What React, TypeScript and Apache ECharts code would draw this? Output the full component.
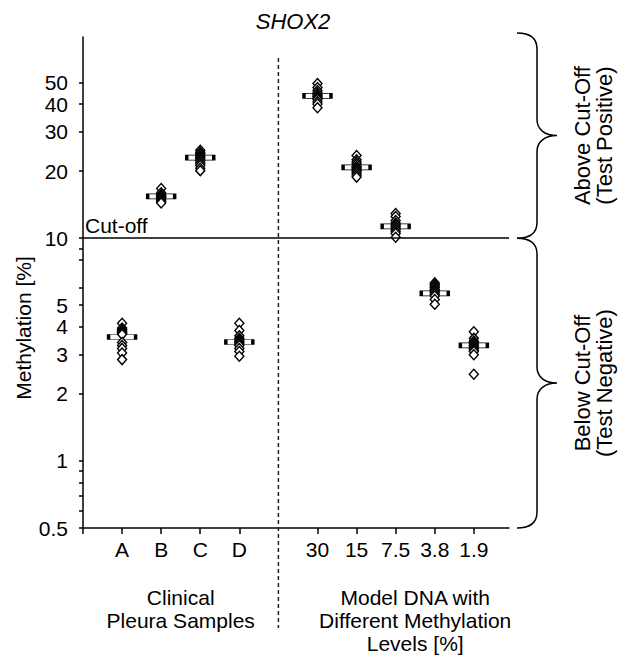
import React, { useEffect, useRef } from "react";
import * as echarts from "echarts";

// ---- data ----
const xTickLabels = ["", "A", "B", "C", "D", "", "30", "15", "7.5", "3.8", "1.9"];
const groupPositions = [1, 2, 3, 4, 6, 7, 8, 9, 10];

const sampleA = [4.15, 3.95, 3.9, 3.85, 3.8, 3.78, 3.75, 3.72, 3.7, 3.4, 3.3, 3.2, 3.05, 2.85];
const sampleB = [16.7, 16.0, 15.7, 15.5, 15.4, 15.3, 15.2, 15.0, 14.8, 14.6, 14.4];
const sampleC = [24.8, 24.3, 24.0, 23.6, 23.3, 23.0, 22.7, 22.4, 22.0, 21.6, 21.2, 20.6, 20.1];
const sampleD = [4.15, 3.85, 3.65, 3.55, 3.5, 3.45, 3.4, 3.35, 3.3, 3.2, 3.1, 2.95];
const model30 = [49.5, 47.5, 46, 45, 44, 43.5, 43, 42.5, 42, 41, 40, 38.5];
const model15 = [23.5, 22.5, 22, 21.5, 21, 20.8, 20.5, 20.2, 20, 19.6, 19.2, 18.8];
const model7_5 = [12.9, 12.5, 12.0, 11.7, 11.5, 11.3, 11.1, 10.9, 10.7, 10.5, 10.1];
const model3_8 = [6.3, 6.2, 6.1, 6.0, 5.9, 5.85, 5.8, 5.7, 5.6, 5.5, 5.3, 5.05];
const model1_9 = [3.8, 3.55, 3.45, 3.4, 3.35, 3.3, 3.25, 3.2, 3.15, 3.1, 3.0, 2.45];
const groups = [sampleA, sampleB, sampleC, sampleD, model30, model15, model7_5, model3_8, model1_9];
const medians = [3.6, 15.4, 23.0, 3.42, 43.5, 20.8, 11.3, 5.65, 3.3];

const yLabelValues = [0.5, 1, 2, 3, 4, 5, 10, 20, 30, 40, 50];
const yTickValues = [0.5, 0.6, 0.7, 0.8, 0.9, 1, 2, 3, 4, 5, 6, 8, 9, 10, 20, 30, 40, 50];
const xTickValues = [0, 1, 2, 3, 4, 6, 7, 8, 9, 10];
const xLabelValues = [1, 2, 3, 4, 6, 7, 8, 9, 10];
const cutOff = 10;
const yMin = 0.5;
const yMax = 80;
const dividerX = 5;
const clinicalCenterX = 2.5;
const modelCenterX = 8.5;

const FONT = "'Liberation Sans', Arial, Helvetica, sans-serif";

export default function App() {
  const ref = useRef<HTMLDivElement | null>(null);

  useEffect(() => {
    if (!ref.current) return;
    const chart = echarts.init(ref.current, undefined, { renderer: "svg" });

    const points: number[][] = [];
    groups.forEach((g, i) => g.forEach((v) => points.push([groupPositions[i], v])));
    const medianPts = medians.map((m, i) => [groupPositions[i], m]);

    const lineStyle = { color: "#000", width: 1.5 };

    chart.setOption({
      animation: false,
      backgroundColor: "#fff",
      grid: { left: 83, top: 37, width: 426, height: 491, containLabel: false, outerBoundsMode: "none" },
      xAxis: {
        type: "value",
        min: 0,
        max: 10.9,
        axisLine: { show: true, onZero: false, lineStyle },
        axisTick: { show: true, length: 6, customValues: xTickValues, lineStyle },
        axisLabel: {
          customValues: xLabelValues,
          formatter: (v: number) => xTickLabels[Math.round(v)] ?? "",
          fontSize: 21,
          fontFamily: FONT,
          color: "#000",
          margin: 11,
        },
        splitLine: { show: false },
      },
      yAxis: {
        type: "log",
        logBase: 10,
        min: yMin,
        max: yMax,
        axisLine: { show: true, onZero: false, lineStyle },
        axisTick: { show: true, length: 4, customValues: yTickValues, lineStyle },
        axisLabel: {
          customValues: yLabelValues,
          formatter: (v: number) => String(Math.round(v * 10) / 10),
          fontSize: 21,
          fontFamily: FONT,
          color: "#000",
          margin: 15,
        },
        splitLine: { show: false },
        minorTick: { show: false },
      },
      series: [
        {
          type: "scatter",
          name: "median",
          data: medianPts,
          symbol: "rect",
          symbolSize: [27, 5],
          itemStyle: { color: "#fff", borderColor: "#000", borderWidth: 1.5, opacity: 1 },
          z: 2,
          markLine: {
            silent: true,
            symbol: "none",
            data: [{ yAxis: cutOff }],
            lineStyle: { color: "#000", width: 1.5, type: "solid" },
            label: {
              show: true,
              position: "insideStartTop",
              formatter: "Cut-off",
              fontSize: 21,
              fontFamily: FONT,
              color: "#000",
              distance: 2,
            },
          },
        },
        {
          type: "scatter",
          name: "points",
          data: points,
          symbol: "diamond",
          symbolSize: [9, 10],
          itemStyle: { color: "#fff", borderColor: "#000", borderWidth: 1.4, opacity: 1 },
          z: 3,
        },
      ],
    });

    const px = (x: number, y: number) => chart.convertToPixel({ gridIndex: 0 }, [x, y]) as number[];
    const xDiv = px(dividerX, cutOff)[0];
    const xRightEnd = px(10.9, cutOff)[0];
    const yCut = px(0, cutOff)[1];
    const yTop = px(0, yMax)[1];
    const yBottom = px(0, yMin)[1];
    const xClin = px(clinicalCenterX, cutOff)[0];
    const xModel = px(modelCenterX, cutOff)[0];

    const bx0 = xRightEnd + 8;
    const bx1 = bx0 + 20;
    const bx2 = bx1 + 20;
    const r = 16;
    const braceTop = yTop - 4;
    const makeBrace = (a: number, b: number) => {
      const mid = (a + b) / 2;
      return (
        `M${bx0},${a} C${bx0 + 14},${a} ${bx1},${a + 6} ${bx1},${a + r} ` +
        `L${bx1},${mid - r} C${bx1},${mid - 6} ${bx1 + 8},${mid} ${bx2},${mid} ` +
        `C${bx1 + 8},${mid} ${bx1},${mid + 6} ${bx1},${mid + r} ` +
        `L${bx1},${b - r} C${bx1},${b - 6} ${bx0 + 14},${b} ${bx0},${b}`
      );
    };
    echarts.graphic.registerShape("braceUpper", echarts.graphic.extendPath(makeBrace(braceTop, yCut), {}) as any);
    echarts.graphic.registerShape("braceLower", echarts.graphic.extendPath(makeBrace(yCut, yBottom), {}) as any);

    const textStyle = (text: string, extra: any = {}) => ({
      text,
      fontSize: 21,
      fontFamily: FONT,
      fill: "#000",
      align: "center",
      verticalAlign: "middle",
      lineHeight: 23,
      ...extra,
    });

    chart.setOption({
      graphic: [
        {
          type: "line",
          shape: { x1: xDiv, y1: 58, x2: xDiv, y2: 628 },
          style: { stroke: "#222", lineWidth: 1.5, lineDash: [4, 3] },
          z: 1,
        },
        { type: "braceUpper", style: { fill: "none", stroke: "#000", lineWidth: 1.5 } },
        { type: "braceLower", style: { fill: "none", stroke: "#000", lineWidth: 1.5 } },
        { type: "text", x: 293, y: 21, style: textStyle("SHOX2", { fontStyle: "italic", fontSize: 22 }) },
        { type: "text", x: 23, y: 328, rotation: Math.PI / 2, style: textStyle("Methylation [%]") },
        {
          type: "text",
          x: 593,
          y: (braceTop + yCut) / 2,
          rotation: Math.PI / 2,
          style: textStyle("Above Cut-Off\n(Test Positive)", { lineHeight: 22, fontSize: 22 }),
        },
        {
          type: "text",
          x: 593,
          y: (yCut + yBottom) / 2,
          rotation: Math.PI / 2,
          style: textStyle("Below Cut-Off\n(Test Negative)", { lineHeight: 22, fontSize: 22 }),
        },
        { type: "text", x: xClin, y: 608.5, style: textStyle("Clinical\nPleura Samples") },
        { type: "text", x: xModel, y: 620, style: textStyle("Model DNA with\nDifferent Methylation\nLevels [%]") },
      ],
    });

    return () => chart.dispose();
  }, []);

  return (
    <div
      ref={ref}
      style={{ position: "fixed", left: 0, top: 0, width: 621, height: 657, background: "#fff" }}
    />
  );
}
